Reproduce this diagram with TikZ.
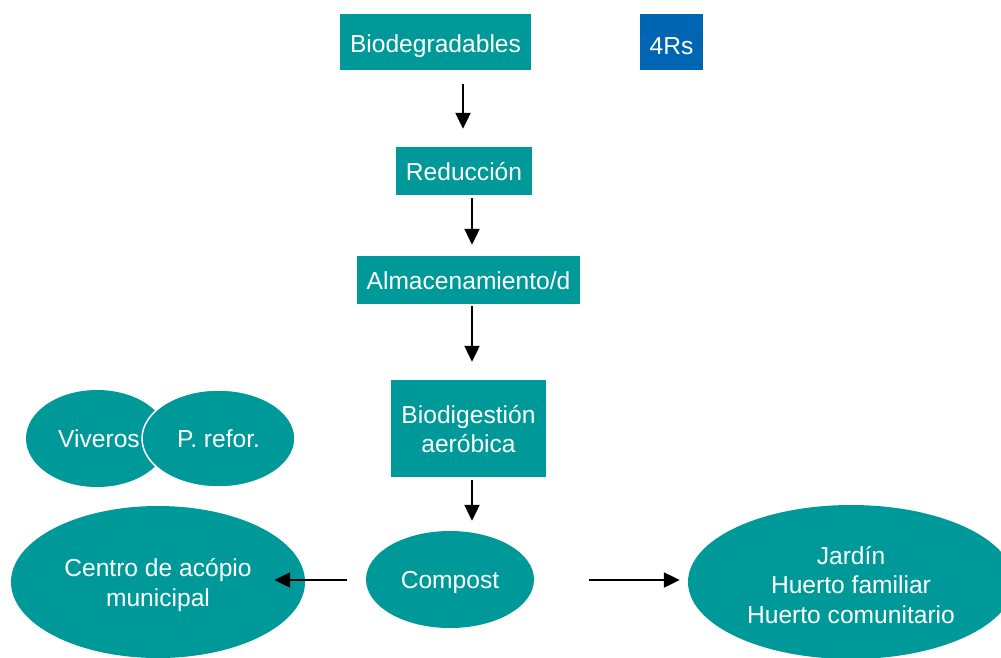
\documentclass[tikz,border=0pt]{standalone}
\usepackage{fontspec}
\setmainfont{Liberation Sans}
\usetikzlibrary{shapes.geometric,arrows.meta}
\definecolor{teal1}{HTML}{009999}
\definecolor{blue1}{HTML}{0066B3}
\newcommand\lowtxt[2][3pt]{\raisebox{-#1}[\height][\depth]{#2}}
\tikzset{
  box/.style={rectangle, fill=teal1, text=white, inner sep=0pt, align=center, font=\fontsize{24.6}{29}\selectfont},
  oval/.style={ellipse, fill=teal1, text=white, inner sep=0pt, align=center, font=\fontsize{24.6}{29.5}\selectfont},
  arr/.style={line width=2.2pt, -{Triangle[length=16pt,width=15pt]}}
}
\begin{document}
\begin{tikzpicture}[x=1pt,y=-1pt]
\useasboundingbox (0,0) rectangle (1001,657);
\clip (0,0) rectangle (1001,657);
\node[box, minimum width=191pt, minimum height=56pt] (bio) at (435.5,42) {\lowtxt[4pt]{Biodegradables}};
\node[box, fill=blue1, minimum width=63pt, minimum height=56pt] (rs) at (671.5,42) {\lowtxt[4pt]{4Rs}};
\node[box, minimum width=136pt, minimum height=48pt] (red) at (464,171) {\lowtxt[1pt]{Reducción}};
\node[box, minimum width=223pt, minimum height=48pt] (alm) at (468.5,280) {\lowtxt[1pt]{Almacenamiento/d}};
\node[box, minimum width=155pt, minimum height=97pt] (dig) at (468.5,428.5) {\lowtxt[1pt]{Biodigestión}\\\lowtxt[1pt]{aeróbica}};
\node[oval, minimum width=168pt, minimum height=97pt] (comp) at (450,579.5) {\lowtxt{Compost}};
\node[oval, minimum width=294pt, minimum height=152pt] (centro) at (158,582) {\lowtxt{Centro de acópio}\\\lowtxt{municipal}};
\node[oval, minimum width=326pt, minimum height=154pt] (jardin) at (851,582) {\lowtxt{Jardín}\\\lowtxt{Huerto familiar}\\\lowtxt{Huerto comunitario}};
\node[oval, minimum width=142pt, minimum height=97pt] (viv) at (97,438.5) {};
\node[oval, draw=white, line width=1.5pt, minimum width=153pt, minimum height=97pt] (pref) at (218.5,438.5) {P. refor.};
\node[text=white, font=\fontsize{24.6}{29}\selectfont, anchor=west, inner sep=0pt] (vivt) at (58,438.5) {Viveros};
\draw[arr] ([shift={(27.5,14)}]bio.south) -- ([shift={(-1,-18)}]red.north);
\draw[arr] ([shift={(8,3)}]red.south) -- ([shift={(3.5,-11)}]alm.north);
\draw[arr] ([shift={(3.5,2)}]alm.south) -- ([shift={(3.5,-18)}]dig.north);
\draw[arr] ([shift={(3.5,3)}]dig.south) -- ([shift={(22,-10)}]comp.north);
\draw[arr] ([shift={(-19,0.5)}]comp.west) -- ([shift={(-31,-2)}]centro.east);
\draw[arr] ([shift={(55,0.5)}]comp.east) -- ([shift={(-8,-2)}]jardin.west);
\end{tikzpicture}
\end{document}
